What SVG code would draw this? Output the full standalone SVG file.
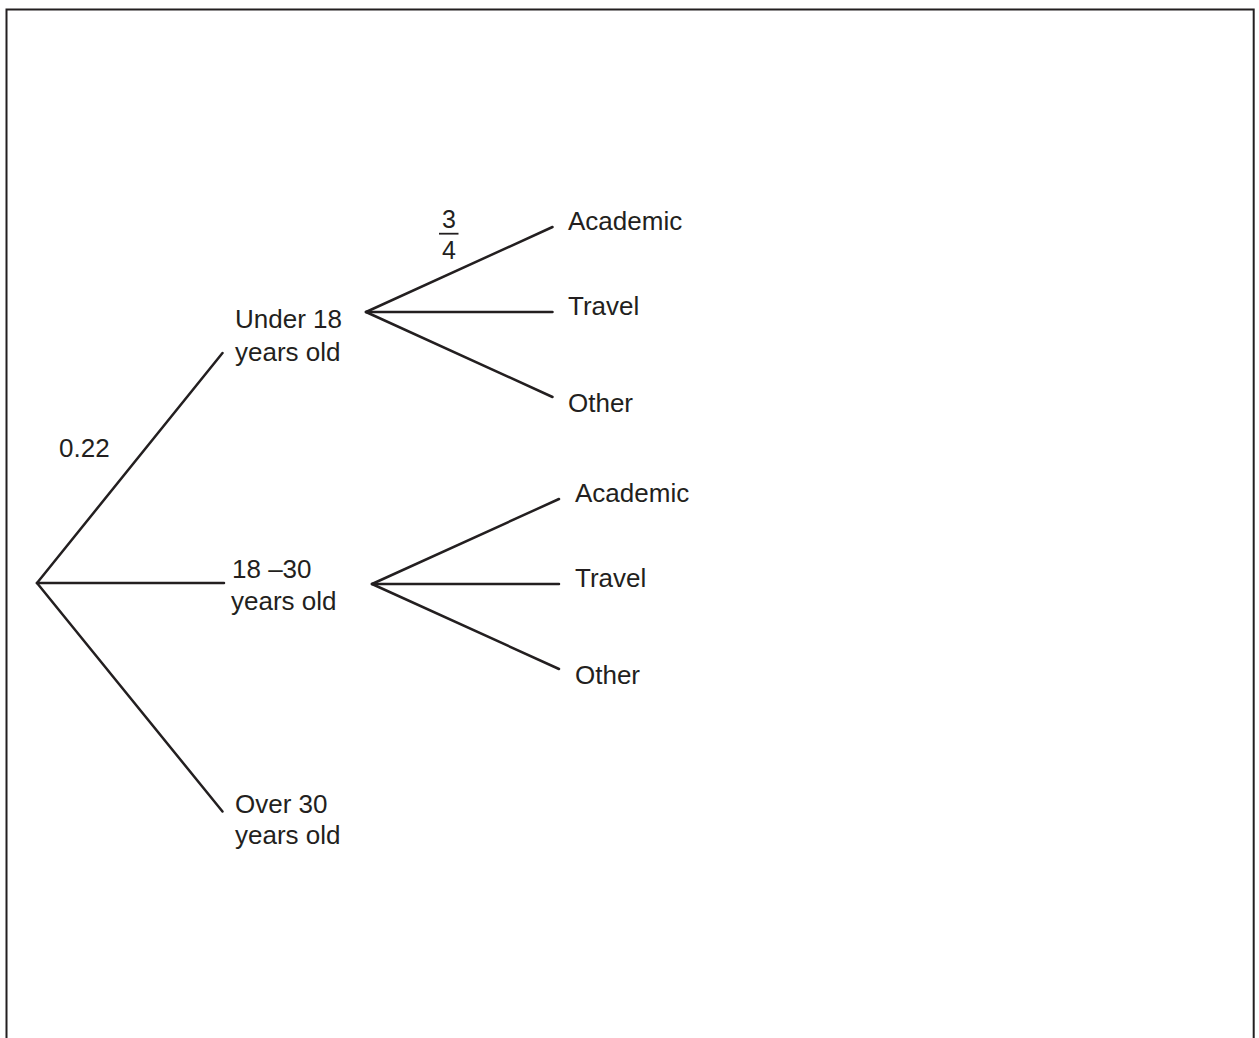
<svg xmlns="http://www.w3.org/2000/svg" width="1259" height="1038" viewBox="0 0 1259 1038">
<style>
.l{stroke:#231f20;stroke-width:2.5;fill:none;stroke-linecap:round}
text{font-family:"Liberation Sans",Arial,sans-serif;font-size:26px;fill:#231f20}
text.f{font-size:25px}
</style>
<rect x="0" y="0" width="1259" height="1038" fill="#fff"/>
<path d="M6.5 1040 V9.5 H1253.7 V1040" fill="none" stroke="#231f20" stroke-width="2"/>
<g id="connectors">
<line class="l" x1="37" y1="583" x2="222.5" y2="353"/>
<line class="l" x1="37" y1="583" x2="224" y2="583"/>
<line class="l" x1="37" y1="583" x2="222.5" y2="811.5"/>
<line class="l" x1="366" y1="312" x2="552.5" y2="227"/>
<line class="l" x1="366" y1="312" x2="552.5" y2="312"/>
<line class="l" x1="366" y1="312" x2="552.5" y2="397"/>
<line class="l" x1="372" y1="584" x2="559" y2="499"/>
<line class="l" x1="372" y1="584" x2="559" y2="584"/>
<line class="l" x1="372" y1="584" x2="559" y2="669"/>
</g>
<g id="label-022"><text x="59" y="457">0.22</text></g>
<g id="label-34">
<text class="f" x="449" y="228" text-anchor="middle">3</text>
<line x1="439" y1="233.7" x2="458.5" y2="233.7" stroke="#231f20" stroke-width="1.8"/>
<text class="f" x="449" y="259" text-anchor="middle">4</text>
</g>
<g id="node-under18"><text x="235" y="328">Under 18</text><text x="235" y="361">years old</text></g>
<g id="node-18-30"><text x="232" y="578">18 –30</text><text x="231" y="610">years old</text></g>
<g id="node-over30"><text x="235" y="813">Over 30</text><text x="235" y="844">years old</text></g>
<g id="node-a1"><text x="568" y="230">Academic</text></g>
<g id="node-t1"><text x="568" y="315">Travel</text></g>
<g id="node-o1"><text x="568" y="412">Other</text></g>
<g id="node-a2"><text x="575" y="502">Academic</text></g>
<g id="node-t2"><text x="575" y="587">Travel</text></g>
<g id="node-o2"><text x="575" y="684">Other</text></g>
</svg>
